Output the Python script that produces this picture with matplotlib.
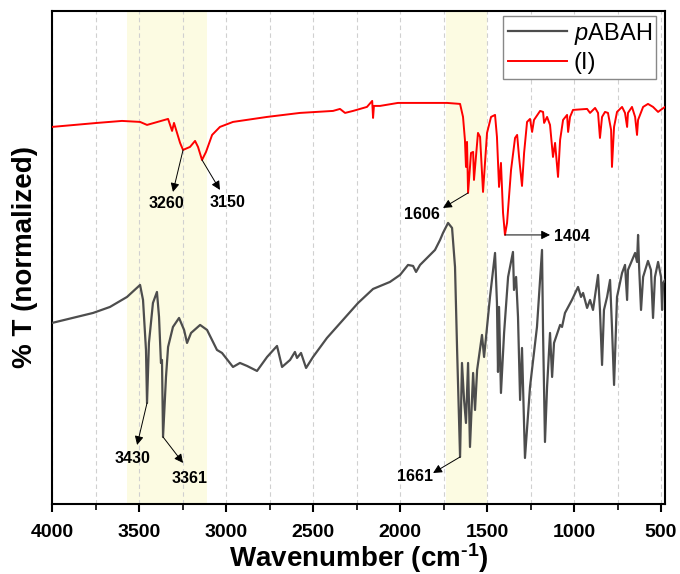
import numpy as np
import matplotlib
matplotlib.use("Agg")
import matplotlib.pyplot as plt

plt.rcParams['font.family'] = ['Liberation Sans', 'DejaVu Sans']
plt.rcParams['mathtext.fontset'] = 'custom'
plt.rcParams['mathtext.rm'] = 'Liberation Sans:bold'
plt.rcParams['mathtext.it'] = 'Liberation Sans:italic'
plt.rcParams['mathtext.bf'] = 'Liberation Sans:bold'

# --- data (wavenumber cm-1, normalized %T, arbitrary units)
wn_I = [4000, 3741, 3598, 3494, 3454, 3333, 3310, 3299, 3264, 3247, 3207, 3178, 3161,
        3138, 3115, 3080, 3035, 2960, 2764, 2575, 2385, 2345, 2316, 2270, 2190, 2160,
        2155, 2150, 2115, 2012, 1960, 1730, 1655, 1638, 1627, 1621, 1615, 1609, 1592,
        1580, 1575, 1552, 1540, 1523, 1500, 1477, 1454, 1443, 1431, 1420, 1408, 1397,
        1385, 1362, 1339, 1327, 1316, 1299, 1287, 1270, 1253, 1241, 1230, 1195, 1178,
        1172, 1155, 1138, 1121, 1109, 1092, 1080, 1063, 1040, 1034, 1023, 1006, 925,
        908, 879, 862, 851, 839, 822, 805, 787, 782, 770, 753, 724, 707, 695, 690, 667,
        649, 638, 632, 603, 575, 546, 517, 494, 477]
T_I = [377, 381, 383, 382, 379, 385, 373, 381, 361, 354, 357, 363, 357,
       344, 352, 369, 377, 382, 387, 391, 393, 395, 391, 393, 397, 403,
       386, 398, 398, 401, 401, 401, 400, 387, 364, 337, 362, 311, 351,
       352, 324, 371, 367, 312, 371, 387, 389, 367, 317, 341, 291, 269,
       281, 334, 366, 369, 347, 318, 351, 382, 385, 372, 384, 393, 392,
       381, 387, 379, 347, 361, 327, 364, 384, 389, 372, 387, 394, 395,
       391, 396, 391, 366, 387, 392, 391, 374, 337, 377, 392, 397, 391, 377, 391, 397,
       387, 369, 384, 397, 400, 397, 392, 395, 397]

wn_pABAH = [4000, 3764, 3667, 3569, 3494, 3477, 3460, 3454, 3443, 3420, 3397, 3385, 3374,
            3368, 3362, 3345, 3333, 3305, 3270, 3241, 3224, 3201, 3149, 3109, 3052, 3023,
            2960, 2920, 2879, 2822, 2764, 2707, 2678, 2632, 2604, 2592, 2569, 2540, 2500,
            2420, 2328, 2241, 2155, 2058, 2000, 1954, 1925, 1908, 1885, 1799, 1770, 1753,
            1724, 1701, 1684, 1672, 1655, 1644, 1632, 1621, 1609, 1598, 1580, 1569, 1557,
            1529, 1517, 1500, 1483, 1454, 1443, 1437, 1431, 1420, 1402, 1379, 1351, 1345,
            1333, 1322, 1310, 1299, 1282, 1253, 1213, 1184, 1178, 1167, 1155, 1138, 1126,
            1115, 1080, 1069, 1052, 1012, 977, 960, 948, 925, 908, 891, 862, 851, 839, 828,
            810, 793, 782, 770, 753, 724, 707, 695, 690, 649, 638, 632, 626, 615, 603, 575,
            558, 546, 535, 517, 500, 494, 488, 477]
T_pABAH = [181, 191, 197, 207, 219, 204, 154, 101, 161, 201, 212, 187, 141,
           144, 67, 127, 157, 177, 186, 174, 161, 171, 179, 174, 154, 151,
           137, 141, 138, 133, 147, 158, 137, 144, 152, 146, 151, 136, 147,
           166, 184, 201, 215, 222, 229, 239, 238, 232, 239, 254, 264, 271,
           281, 276, 237, 154, 47, 141, 104, 81, 141, 57, 131, 94, 134,
           169, 147, 177, 207, 251, 201, 132, 197, 111, 171, 227, 252, 214,
           227, 187, 104, 156, 46, 117, 177, 254, 171, 62, 117, 171, 127,
           161, 179, 177, 191, 204, 217, 207, 211, 196, 204, 194, 229, 194, 139, 194,
           207, 224, 177, 119, 207, 231, 239, 204, 234, 251, 242, 269, 237, 194, 227, 243,
           234, 186, 227, 242, 227, 194, 221, 224]

bands = [(3570, 3110), (1733, 1500)]

# (label, peak position, arrow head, text position)
peaks = [
    ("3260", (3247, 354), (3305, 312), (3345, 300)),
    ("3150", (3138, 344), (3035, 314), (2989, 301)),
    ("1606", (1609, 311), (1753, 296), (1874, 289)),
    ("1404", (1397, 269), (1138, 269), (1012, 267)),
    ("3430", (3454, 101), (3511, 59), (3540, 45)),
    ("3361", (3362, 67), (3247, 41), (3207, 25)),
    ("1661", (1655, 47), (1810, 31), (1914, 27)),
]

fig = plt.figure(figsize=(6.8, 5.74), dpi=100)
ax = fig.add_axes([0.0765, 0.122, 0.9015, 0.859])

for b0, b1 in bands:
    ax.axvspan(b0, b1, color='#fcfbe2', zorder=0, lw=0)

ax.plot(wn_pABAH, T_pABAH, color='#4d4d4d', lw=1.6, label=r'$\mathit{p}$ABAH', zorder=3)
ax.plot(wn_I, T_I, color='#ff0000', lw=1.4, label='(I)', zorder=3)

for lab, pk, head, txt in peaks:
    ax.annotate('', xy=head, xytext=pk,
                arrowprops=dict(arrowstyle='-|>', color='black', lw=0.7,
                                mutation_scale=13, shrinkA=0, shrinkB=0))
    ax.text(txt[0], txt[1], lab, fontsize=11.5, fontweight='bold',
            ha='center', va='center')

ax.set_xlim(4000, 477)
ax.set_ylim(0, 493)
ax.set_xticks(np.arange(4000, 499, -500))
ax.set_xticks(np.arange(3750, 499, -500), minor=True)
ax.grid(True, axis='x', which='both', ls=(0, (4, 3)), color='#d0d0d0', lw=0.8)
ax.set_axisbelow(True)
ax.set_yticks([])

ax.tick_params(axis='x', which='major', direction='out', length=6, width=1.5,
               labelsize=14, pad=8.5)
ax.tick_params(axis='x', which='minor', direction='out', length=4, width=1.2)
for lbl in ax.get_xticklabels():
    lbl.set_fontweight('bold')
for s in ax.spines.values():
    s.set_linewidth(1.5)

ax.set_xlabel(r'Wavenumber (cm$^{\text{-1}}$)', fontsize=20, fontweight='bold', labelpad=0)
ax.set_ylabel('% T (normalized)', fontsize=20, fontweight='bold', labelpad=10)

leg = ax.legend(loc='upper right', bbox_to_anchor=(0.986, 0.99), fontsize=17,
                handlelength=2.5, handletextpad=0.3, borderpad=0.2, labelspacing=0.25,
                fancybox=False, framealpha=1, edgecolor='#888888', borderaxespad=0)
leg.get_frame().set_linewidth(1.0)

fig.savefig('out.png', dpi=100, facecolor='white')
